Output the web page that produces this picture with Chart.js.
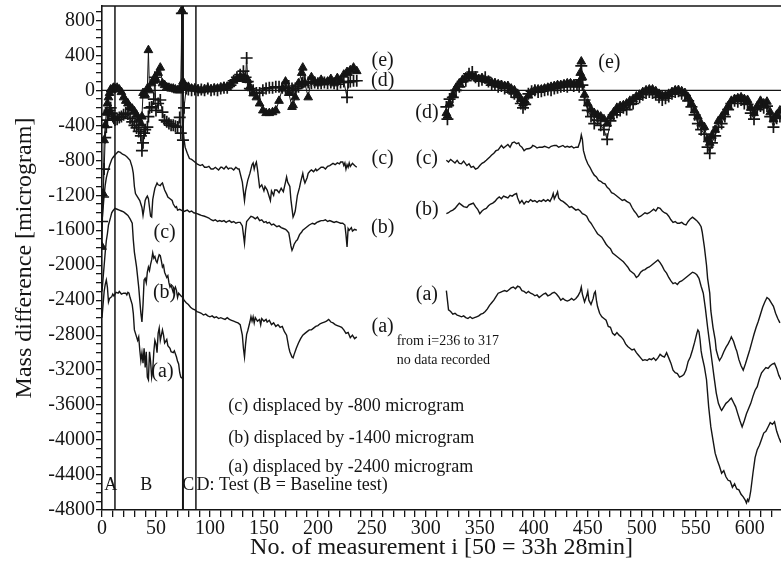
<!DOCTYPE html>
<html>
<head>
<meta charset="utf-8">
<script src="https://cdn.jsdelivr.net/npm/chart.js@4/dist/chart.umd.min.js"></script>
<style>
  html, body { margin: 0; padding: 0; background: #fff; }
  #massChart { display: block; }
</style>
</head>
<body>
<canvas id="massChart" width="781" height="569"></canvas>
<script>
// Mass difference vs. measurement number, tests A-D
// series (c), (b), (a) are lines, (e) triangles, (d) pluses
// [i, microgram] pairs

// (c) displaced by -800
const cPartB = [[0,-1500],[1,-1350],[2,-1200],[3,-1080],[4,-1000],[5,-950],[7,-860],[9,-790],[10,-770],[12,-740],[15,-700],[17,-710],[19,-730],[21,-740],[23,-760],[26,-800],[28,-880],[29,-950],[30,-1100],[31,-1180],[32,-1200],[33,-1220],[35,-1260],[37,-1340],[38,-1430],[39,-1350],[40,-1260],[41,-1230],[42,-1210],[43,-1240],[44,-1340],[45,-1440],[46,-1450],[47,-1250],[48,-1180],[49,-1120],[51,-1060],[52,-1080],[54,-1090],[55,-1070],[56,-1060],[57,-1100],[58,-1140],[60,-1190],[61,-1220],[63,-1240],[65,-1260],[66,-1300],[68,-1340],[69,-1330],[70,-1370],[72,-1360],[75,-1380]];
const cPartD = [[75,-430],[76,-560],[77,-650],[79,-720],[81,-780],[83,-790],[84,-800],[86,-820],[88,-840],[91,-860],[93,-850],[95,-880],[97,-880],[99,-870],[101,-900],[103,-900],[105,-880],[106,-890],[108,-910],[110,-880],[111,-880],[113,-900],[115,-870],[117,-900],[118,-890],[120,-890],[122,-910],[124,-880],[126,-900],[127,-900],[128,-950],[130,-1050],[132,-1260],[133,-1150],[135,-1030],[137,-950],[139,-850],[140,-830],[141,-900],[142,-850],[143,-820],[144,-900],[146,-1110],[148,-1080],[150,-1150],[151,-1100],[153,-1140],[154,-1180],[156,-1260],[157,-1150],[159,-1200],[160,-1140],[162,-1140],[164,-1170],[166,-1120],[168,-1160],[170,-1050],[171,-990],[172,-1050],[174,-1100],[175,-1250],[176,-1350],[177,-1450],[178,-1420],[179,-1380],[181,-1200],[183,-1110],[184,-1050],[186,-950],[187,-1020],[188,-1060],[190,-1000],[191,-950],[193,-920],[194,-910],[196,-930],[198,-900],[199,-920],[201,-900],[203,-880],[205,-880],[207,-900],[209,-870],[211,-860],[214,-835],[216,-850],[218,-830],[220,-840],[221,-820],[223,-820],[224,-860],[225,-830],[226,-900],[227,-850],[228,-880],[229,-830],[230,-870],[232,-835],[234,-860],[236,-880]];
const cPartR = [[319,-800],[321,-820],[323,-790],[325,-810],[327,-830],[329,-800],[331,-835],[333,-840],[335,-810],[338,-860],[340,-840],[342,-880],[344,-870],[346,-900],[348,-890],[350,-860],[352,-835],[354,-820],[356,-800],[359,-765],[361,-740],[363,-720],[365,-690],[367,-680],[370,-630],[372,-660],[374,-640],[376,-620],[378,-650],[380,-600],[382,-590],[384,-610],[386,-600],[387,-630],[389,-650],[391,-690],[393,-670],[396,-665],[398,-650],[399,-630],[401,-640],[403,-660],[405,-650],[408,-650],[410,-640],[412,-650],[414,-660],[416,-640],[419,-630],[421,-630],[423,-650],[425,-640],[427,-630],[429,-650],[431,-640],[433,-650],[435,-640],[437,-660],[439,-650],[441,-650],[443,-580],[444,-510],[445,-560],[446,-690],[448,-780],[450,-840],[452,-880],[454,-930],[456,-970],[458,-990],[460,-1030],[462,-1040],[464,-1060],[466,-1070],[468,-1110],[470,-1130],[472,-1170],[474,-1180],[476,-1200],[478,-1220],[480,-1240],[482,-1260],[484,-1250],[486,-1270],[489,-1290],[491,-1340],[493,-1380],[495,-1410],[497,-1450],[499,-1440],[501,-1420],[503,-1400],[505,-1410],[507,-1400],[509,-1380],[511,-1360],[513,-1380],[515,-1340],[517,-1350],[519,-1380],[521,-1400],[523,-1410],[525,-1440],[527,-1480],[529,-1510],[531,-1500],[533,-1520],[535,-1520],[537,-1510],[539,-1530],[541,-1540],[543,-1500],[545,-1470],[547,-1450],[549,-1470],[551,-1490],[553,-1520],[555,-1560],[556,-1620],[558,-1790],[560,-2000],[561,-2150],[563,-2320],[564,-2520],[566,-2710],[568,-2850],[569,-2970],[571,-3060],[572,-3090],[574,-3050],[576,-2990],[578,-2940],[580,-2900],[582,-2850],[583,-2820],[585,-2870],[587,-2950],[588,-2980],[590,-3080],[592,-3150],[594,-3200],[596,-3130],[598,-3050],[600,-2970],[602,-2880],[604,-2790],[606,-2710],[608,-2640],[610,-2560],[612,-2480],[614,-2420],[616,-2370],[618,-2390],[620,-2430],[622,-2470],[624,-2550],[626,-2610],[628,-2660]];

// (b) displaced by -1400
const bPartB = [[0,-2300],[1,-2150],[2,-2000],[3,-1850],[4,-1720],[5,-1640],[6,-1540],[8,-1450],[9,-1400],[10,-1380],[12,-1350],[14,-1360],[16,-1370],[18,-1380],[20,-1390],[22,-1410],[24,-1430],[26,-1470],[28,-1520],[29,-1710],[30,-1850],[32,-2020],[34,-2250],[35,-2400],[36,-2550],[37,-2650],[38,-2450],[39,-2170],[40,-2150],[41,-2200],[42,-2080],[43,-2020],[44,-2060],[45,-1990],[46,-1940],[47,-1860],[48,-1920],[49,-1900],[50,-1950],[51,-1970],[52,-1920],[53,-1880],[54,-1890],[55,-1950],[56,-2020],[57,-2000],[58,-2080],[60,-2140],[61,-2120],[62,-2200],[63,-2250],[64,-2230],[66,-2310],[67,-2280],[68,-2250],[69,-2290],[70,-2370],[71,-2320],[73,-2350],[75,-2370]];
const bPartD = [[75,-1390],[77,-1380],[79,-1370],[81,-1390],[83,-1380],[85,-1400],[88,-1410],[90,-1420],[92,-1430],[95,-1440],[97,-1450],[99,-1460],[101,-1480],[103,-1490],[105,-1480],[107,-1500],[109,-1490],[111,-1500],[113,-1490],[115,-1510],[116,-1500],[118,-1490],[120,-1510],[122,-1500],[124,-1520],[126,-1510],[128,-1510],[130,-1550],[131,-1650],[132,-1750],[133,-1600],[134,-1500],[136,-1470],[138,-1440],[140,-1450],[142,-1470],[144,-1450],[146,-1490],[148,-1480],[150,-1510],[152,-1500],[153,-1520],[155,-1510],[157,-1540],[159,-1530],[162,-1560],[164,-1550],[166,-1570],[168,-1580],[170,-1590],[171,-1600],[173,-1630],[174,-1700],[175,-1780],[176,-1830],[177,-1800],[178,-1760],[180,-1720],[181,-1710],[183,-1650],[185,-1620],[186,-1600],[188,-1580],[190,-1560],[192,-1540],[195,-1520],[197,-1530],[199,-1510],[201,-1500],[203,-1490],[205,-1490],[207,-1480],[209,-1500],[211,-1490],[213,-1500],[215,-1510],[217,-1500],[219,-1510],[221,-1520],[223,-1520],[225,-1540],[226,-1650],[227,-1790],[228,-1580],[229,-1600],[231,-1570],[232,-1610],[234,-1590],[236,-1600]];
const bPartR = [[319,-1410],[321,-1400],[323,-1380],[325,-1370],[327,-1350],[329,-1320],[331,-1290],[333,-1310],[335,-1330],[338,-1340],[340,-1310],[342,-1300],[344,-1290],[346,-1330],[348,-1360],[350,-1410],[352,-1380],[354,-1360],[356,-1350],[358,-1320],[360,-1300],[362,-1290],[364,-1270],[366,-1240],[368,-1220],[370,-1240],[372,-1210],[374,-1220],[376,-1230],[378,-1200],[380,-1210],[382,-1190],[384,-1180],[385,-1230],[387,-1290],[389,-1260],[391,-1300],[393,-1270],[395,-1280],[397,-1250],[399,-1270],[401,-1260],[403,-1280],[405,-1260],[407,-1270],[409,-1250],[411,-1270],[413,-1250],[415,-1270],[417,-1220],[418,-1180],[419,-1240],[421,-1190],[422,-1160],[423,-1230],[425,-1260],[427,-1270],[429,-1290],[431,-1310],[433,-1340],[435,-1330],[437,-1350],[439,-1370],[441,-1360],[443,-1380],[445,-1410],[447,-1420],[449,-1440],[451,-1490],[453,-1520],[455,-1560],[457,-1600],[459,-1640],[461,-1660],[463,-1680],[465,-1720],[467,-1760],[469,-1790],[471,-1810],[473,-1860],[475,-1880],[477,-1900],[479,-1920],[481,-1940],[483,-1960],[485,-1990],[487,-2020],[489,-2060],[491,-2080],[493,-2100],[495,-2140],[497,-2120],[499,-2080],[501,-2060],[503,-2050],[505,-2030],[507,-2020],[509,-2000],[511,-1980],[513,-1960],[515,-1940],[517,-1970],[519,-2010],[521,-2060],[523,-2090],[525,-2140],[527,-2180],[529,-2210],[531,-2200],[533,-2220],[535,-2190],[537,-2180],[539,-2160],[541,-2140],[543,-2120],[545,-2100],[547,-2080],[549,-2090],[551,-2110],[553,-2150],[555,-2240],[557,-2320],[559,-2500],[561,-2710],[563,-2900],[565,-3090],[567,-3280],[569,-3460],[571,-3580],[573,-3640],[574,-3660],[576,-3620],[578,-3580],[580,-3560],[582,-3530],[583,-3520],[585,-3570],[587,-3620],[589,-3700],[591,-3780],[593,-3850],[595,-3780],[597,-3700],[599,-3640],[601,-3580],[603,-3500],[605,-3430],[607,-3390],[609,-3300],[611,-3230],[613,-3200],[615,-3170],[617,-3180],[619,-3150],[621,-3130],[623,-3120],[625,-3180],[627,-3260],[629,-3310]];

// (a) displaced by -2400
const aPartB = [[0,-2600],[1,-2450],[2,-2300],[3,-2220],[4,-2170],[5,-2250],[6,-2420],[7,-2380],[8,-2370],[9,-2360],[10,-2330],[11,-2350],[13,-2310],[15,-2320],[16,-2300],[18,-2330],[20,-2320],[22,-2320],[23,-2340],[24,-2310],[25,-2320],[26,-2370],[28,-2450],[29,-2550],[30,-2740],[31,-2780],[33,-2860],[34,-2820],[35,-2970],[36,-3090],[37,-3000],[38,-3120],[39,-2950],[40,-3170],[41,-2990],[42,-3280],[43,-3310],[44,-2990],[45,-3100],[46,-3280],[47,-3200],[48,-2990],[49,-2860],[50,-2900],[51,-3000],[52,-2780],[53,-2720],[54,-2860],[56,-2740],[57,-2800],[58,-2890],[60,-2850],[61,-2920],[63,-2950],[64,-2990],[66,-3000],[67,-2980],[69,-3050],[70,-3100],[71,-3130],[72,-3230],[73,-3280],[75,-3300]];
const aPartD = [[75,-2370],[76,-2400],[78,-2430],[80,-2450],[82,-2480],[84,-2500],[86,-2510],[88,-2530],[90,-2540],[92,-2550],[94,-2570],[96,-2560],[98,-2580],[100,-2590],[102,-2580],[104,-2600],[106,-2590],[108,-2610],[110,-2600],[112,-2610],[114,-2620],[116,-2600],[118,-2620],[120,-2630],[122,-2640],[124,-2650],[126,-2660],[128,-2680],[130,-2800],[131,-2950],[132,-3050],[133,-2900],[134,-2790],[135,-2750],[137,-2650],[138,-2590],[139,-2640],[140,-2590],[141,-2660],[142,-2600],[144,-2640],[146,-2620],[147,-2680],[148,-2610],[150,-2640],[152,-2620],[153,-2650],[155,-2630],[157,-2680],[159,-2660],[161,-2700],[163,-2680],[165,-2710],[167,-2700],[169,-2760],[171,-2800],[173,-2940],[174,-2990],[176,-3050],[177,-3060],[178,-3020],[180,-2950],[182,-2890],[184,-2840],[186,-2800],[188,-2780],[190,-2760],[192,-2740],[194,-2740],[196,-2720],[198,-2700],[200,-2690],[202,-2670],[204,-2660],[206,-2650],[208,-2640],[210,-2620],[212,-2650],[214,-2660],[216,-2680],[218,-2690],[220,-2700],[222,-2710],[224,-2740],[226,-2780],[228,-2770],[230,-2830],[232,-2800],[234,-2840],[236,-2820]];
const aPartR = [[319,-2290],[320,-2400],[321,-2510],[323,-2530],[325,-2560],[327,-2550],[329,-2570],[331,-2580],[333,-2590],[335,-2580],[337,-2600],[339,-2610],[341,-2590],[343,-2610],[345,-2600],[347,-2590],[349,-2580],[351,-2560],[353,-2550],[355,-2530],[357,-2500],[359,-2460],[361,-2430],[363,-2400],[365,-2360],[367,-2320],[369,-2310],[371,-2300],[373,-2290],[375,-2300],[377,-2280],[379,-2260],[381,-2250],[383,-2270],[385,-2240],[387,-2250],[389,-2290],[391,-2300],[393,-2320],[395,-2300],[397,-2320],[399,-2330],[401,-2350],[403,-2340],[405,-2370],[407,-2350],[409,-2330],[411,-2320],[413,-2350],[415,-2340],[417,-2320],[419,-2310],[421,-2330],[423,-2360],[425,-2400],[427,-2380],[429,-2400],[431,-2410],[433,-2400],[435,-2380],[437,-2400],[439,-2380],[441,-2350],[443,-2300],[444,-2250],[445,-2330],[447,-2420],[449,-2350],[450,-2300],[451,-2400],[453,-2450],[455,-2380],[456,-2320],[457,-2300],[458,-2400],[459,-2470],[461,-2550],[463,-2590],[465,-2610],[467,-2630],[469,-2700],[471,-2710],[473,-2780],[475,-2800],[477,-2770],[479,-2800],[481,-2820],[483,-2850],[485,-2900],[487,-2930],[489,-2950],[491,-2970],[493,-2960],[495,-3000],[497,-3030],[499,-3060],[501,-3090],[503,-3080],[505,-3090],[507,-3070],[509,-3080],[511,-3060],[513,-3090],[515,-3060],[517,-3020],[519,-3040],[521,-3050],[523,-3000],[525,-3060],[527,-3120],[529,-3200],[531,-3230],[533,-3240],[535,-3280],[537,-3270],[539,-3250],[541,-3200],[543,-3100],[545,-3050],[547,-2970],[549,-2880],[551,-2780],[552,-2740],[553,-2760],[554,-2850],[555,-2980],[556,-3050],[558,-3160],[560,-3310],[562,-3620],[564,-3850],[566,-4000],[568,-4150],[570,-4230],[572,-4300],[574,-4380],[576,-4350],[578,-4420],[580,-4460],[582,-4470],[584,-4540],[586,-4500],[588,-4560],[590,-4570],[592,-4620],[594,-4650],[596,-4690],[597,-4720],[598,-4680],[599,-4700],[600,-4650],[601,-4580],[603,-4380],[605,-4200],[607,-4110],[609,-4060],[611,-3990],[613,-3920],[615,-3900],[617,-3850],[619,-3800],[621,-3820],[623,-3790],[625,-3900],[627,-3970],[629,-4030]];

// marker series (e) triangles and (d) pluses, shared measurement numbers
const markIdxL = [0,1,2,3,4,5,6,7,8,9,10,11,12,14,16,18,20,22,24,26,28,30,32,34,36,37,38,39,40,42,43,44,46,48,49,50,52,54,56,58,60,62,64,66,68,70,72,73,74,75,76,78,80,83,86,89,92,95,98,101,104,107,110,113,116,119,122,125,128,131,133,134,135,137,140,143,146,149,152,155,158,161,164,167,170,173,176,177,179,182,185,186,188,191,194,197,200,203,206,209,212,215,218,221,224,227,228,230,233,236];
const eValL = [-1790,-1180,-570,-400,-250,-150,-80,-30,10,0,20,30,20,30,10,-20,-80,-120,-150,-190,-210,-240,-280,-330,-380,-300,-30,-60,-50,20,460,0,80,110,150,120,200,260,80,60,35,30,20,20,10,0,0,40,915,100,60,35,40,20,20,10,0,10,20,10,20,20,30,40,40,70,110,130,150,140,130,120,120,40,-35,-80,-150,-230,-260,-260,-250,-230,-120,20,100,-30,-190,-170,-80,80,200,260,80,-80,150,100,80,120,90,100,130,80,140,120,180,210,200,230,260,220];
const dValL = [-1500,-1220,-900,-540,-420,-340,-280,-230,-200,-260,-300,-320,-340,-330,-310,-300,-280,-260,-270,-320,-360,-400,-430,-470,-520,-690,-600,-490,-450,-420,-300,-200,-190,-100,150,-230,-150,-110,-250,-340,-360,-380,-400,-400,-410,-420,-310,-490,880,-570,-200,20,10,0,10,0,10,0,20,0,10,0,20,30,30,60,110,150,180,220,150,370,100,20,0,-30,-30,0,20,30,30,40,40,30,30,50,20,0,20,40,80,90,100,90,80,90,80,80,90,80,90,80,70,90,100,-80,90,100,110,110];
const markIdxR = [319,320,322,325,328,331,334,337,340,343,346,349,352,355,358,361,364,367,370,373,376,379,382,385,388,390,392,395,398,401,404,407,410,413,416,419,422,425,428,431,434,437,440,442,443,444,445,447,450,453,456,459,462,465,468,471,474,477,480,483,486,489,492,495,498,501,504,507,510,513,516,519,522,525,528,531,534,537,540,543,546,549,552,555,558,561,563,565,568,571,574,577,580,583,586,589,592,595,598,601,604,607,610,613,616,619,622,625,628];
const eValR = [-260,-290,-150,-50,30,80,120,150,170,160,150,130,140,120,110,90,80,70,60,50,50,20,0,-40,-100,-150,-120,-60,-20,0,10,10,20,30,40,50,60,60,70,80,80,70,70,90,200,330,150,-50,-150,-220,-260,-280,-300,-330,-380,-300,-250,-200,-180,-170,-150,-120,-100,-70,-50,-20,0,10,10,-10,-40,-60,-60,-40,-20,0,0,-10,-30,-80,-150,-230,-300,-380,-420,-560,-600,-520,-450,-350,-300,-250,-180,-120,-100,-90,-80,-100,-110,-200,-260,-180,-120,-150,-130,-250,-330,-280,-230];
const dValR = [-190,-330,-100,-80,0,40,100,110,190,210,150,110,120,150,100,60,70,40,50,20,30,-20,-40,-80,-150,-200,-160,-40,-10,0,-20,-10,0,10,0,20,30,40,50,40,60,50,60,40,120,280,60,-110,-230,-300,-380,-340,-400,-450,-560,-350,-280,-250,-230,-200,-220,-160,-150,-100,-80,-50,-30,-20,-30,-50,-80,-110,-90,-70,-40,-20,-10,-40,-60,-120,-190,-280,-380,-450,-500,-650,-720,-600,-520,-420,-380,-300,-220,-150,-120,-130,-110,-150,-160,-260,-330,-220,-180,-200,-180,-300,-420,-320,-300];

// test boundaries (A | B | C | D)
const testBounds = [12, 75, 87];

const INK = '#151515';
const SERIF = "'Liberation Serif', 'DejaVu Serif', serif";

function toPoints(pairs) {
    return pairs.map(p => ({ x: p[0], y: p[1] }));
}

function zipPoints(idx, vals) {
    return idx.map((x, k) => ({ x: x, y: vals[k] }));
}

// break between i=236 and i=317 (no data recorded)
const gap = { x: 280, y: null };

function lineSet(label, b, d, r) {
    return {
        label: label,
        data: [...toPoints(b), ...toPoints(d), gap, ...toPoints(r)],
        showLine: true,
        borderColor: INK,
        borderWidth: 1.4,
        pointRadius: 0,
        tension: 0,
        spanGaps: false
    };
}

// labels and notes drawn on top of the plot, placed in data units
const notes = [
    { t: '(e)', x: 260, y: 343, a: 'center', s: 20 },
    { t: '(d)', x: 260, y: 114, a: 'center', s: 20 },
    { t: '(c)', x: 260, y: -777, a: 'center', s: 20 },
    { t: '(b)', x: 260, y: -1566, a: 'center', s: 20 },
    { t: '(a)', x: 260, y: -2709, a: 'center', s: 20 },
    { t: '(d)', x: 301, y: -251, a: 'center', s: 20 },
    { t: '(c)', x: 301, y: -777, a: 'center', s: 20 },
    { t: '(b)', x: 301, y: -1371, a: 'center', s: 20 },
    { t: '(a)', x: 301, y: -2343, a: 'center', s: 20 },
    { t: '(e)', x: 470, y: 320, a: 'center', s: 20 },
    { t: '(c)', x: 58, y: -1623, a: 'center', s: 20 },
    { t: '(b)', x: 58, y: -2320, a: 'center', s: 20 },
    { t: '(a)', x: 56, y: -3223, a: 'center', s: 20 },
    { t: 'from i=236 to 317', x: 273, y: -2869, a: 'left', s: 14 },
    { t: 'no data recorded', x: 273, y: -3086, a: 'left', s: 14 },
    { t: '(c) displaced by -800 microgram', x: 117, y: -3612, a: 'left', s: 18 },
    { t: '(b) displaced by -1400 microgram', x: 117, y: -3978, a: 'left', s: 18 },
    { t: '(a) displaced by -2400 microgram', x: 117, y: -4309, a: 'left', s: 18 },
    { t: 'A', x: 8, y: -4514, a: 'center', s: 18 },
    { t: 'B', x: 41, y: -4514, a: 'center', s: 18 },
    { t: 'C', x: 80, y: -4514, a: 'center', s: 18 },
    { t: 'D: Test (B = Baseline test)', x: 87.5, y: -4514, a: 'left', s: 18 }
];

const framePlugin = {
    id: 'frame',
    beforeDatasetsDraw(chart) {
        const { ctx, chartArea, scales } = chart;
        ctx.save();
        ctx.strokeStyle = INK;
        // top border
        ctx.lineWidth = 1.5;
        ctx.beginPath();
        ctx.moveTo(chartArea.left, chartArea.top);
        ctx.lineTo(chartArea.right, chartArea.top);
        ctx.stroke();
        // zero line
        const y0 = scales.y.getPixelForValue(0);
        ctx.lineWidth = 1.2;
        ctx.beginPath();
        ctx.moveTo(chartArea.left, y0);
        ctx.lineTo(chartArea.right, y0);
        ctx.stroke();
        // test boundaries
        testBounds.forEach((b, k) => {
            const x = scales.x.getPixelForValue(b);
            ctx.lineWidth = k === 1 ? 2 : 1.5;
            ctx.beginPath();
            ctx.moveTo(x, chartArea.top);
            ctx.lineTo(x, chartArea.bottom);
            ctx.stroke();
        });
        ctx.restore();
    },
    afterDraw(chart) {
        const { ctx, scales } = chart;
        ctx.save();
        ctx.fillStyle = INK;
        ctx.textBaseline = 'middle';
        notes.forEach(n => {
            ctx.font = n.s + 'px ' + SERIF;
            ctx.textAlign = n.a;
            ctx.fillText(n.t, scales.x.getPixelForValue(n.x), scales.y.getPixelForValue(n.y));
        });
        ctx.restore();
    }
};

Chart.defaults.font.family = SERIF;
Chart.defaults.color = INK;

const massChart = new Chart(document.getElementById('massChart'), {
    type: 'scatter',
    data: {
        datasets: [
            lineSet('(c)', cPartB, cPartD, cPartR),
            lineSet('(b)', bPartB, bPartD, bPartR),
            lineSet('(a)', aPartB, aPartD, aPartR),
            {
                label: '(d)',
                data: [...zipPoints(markIdxL, dValL), gap, ...zipPoints(markIdxR, dValR)],
                showLine: true,
                spanGaps: false,
                borderColor: INK,
                borderWidth: 1,
                pointStyle: 'cross',
                pointRadius: 6,
                pointBorderWidth: 1.7,
                pointBorderColor: INK,
                pointBackgroundColor: INK
            },
            {
                label: '(e)',
                data: [...zipPoints(markIdxL, eValL), gap, ...zipPoints(markIdxR, eValR)],
                showLine: true,
                spanGaps: false,
                borderColor: INK,
                borderWidth: 1,
                pointStyle: 'triangle',
                pointRadius: 5,
                pointBorderWidth: 1,
                pointBorderColor: INK,
                pointBackgroundColor: INK
            }
        ]
    },
    options: {
        responsive: false,
        animation: false,
        devicePixelRatio: 1,
        layout: { autoPadding: false, padding: { top: 6, right: 0, bottom: 0, left: 0 } },
        plugins: {
            legend: { display: false },
            tooltip: { enabled: false }
        },
        scales: {
            x: {
                type: 'linear',
                min: 0,
                max: 629,
                afterFit: scale => {
                    scale.height = 59;
                    scale.paddingLeft = 0;
                    scale.paddingRight = 0;
                },
                grid: { drawOnChartArea: false, drawTicks: true, tickLength: 7, color: INK, lineWidth: 1.3 },
                border: { display: true, color: INK, width: 1.6 },
                ticks: {
                    stepSize: 10,
                    autoSkip: false,
                    includeBounds: false,
                    maxRotation: 0,
                    padding: 0,
                    color: INK,
                    font: { size: 20 },
                    callback: v => (Math.round(v) % 50 === 0 ? String(Math.round(v)) : '')
                },
                title: {
                    display: true,
                    text: 'No. of measurement i [50 = 33h 28min]',
                    color: INK,
                    font: { size: 24 },
                    padding: { top: 0, bottom: 7 }
                }
            },
            y: {
                type: 'linear',
                min: -4800,
                max: 965,
                afterFit: scale => {
                    scale.width = 102;
                    scale.paddingTop = 0;
                    scale.paddingBottom = 0;
                },
                grid: { drawOnChartArea: false, drawTicks: true, tickLength: 6, color: INK, lineWidth: 1.3 },
                border: { display: true, color: INK, width: 1.6 },
                ticks: {
                    stepSize: 100,
                    autoSkip: false,
                    includeBounds: false,
                    padding: 1,
                    color: INK,
                    font: { size: 20 },
                    callback: v => {
                        const r = Math.round(v);
                        return (r % 400 === 0 && r <= 800) ? String(r) : '';
                    }
                },
                title: {
                    display: true,
                    text: 'Mass difference [microgram]',
                    color: INK,
                    font: { size: 24 },
                    padding: { top: 10, bottom: 0 }
                }
            }
        }
    },
    plugins: [framePlugin]
});
</script>
</body>
</html>
